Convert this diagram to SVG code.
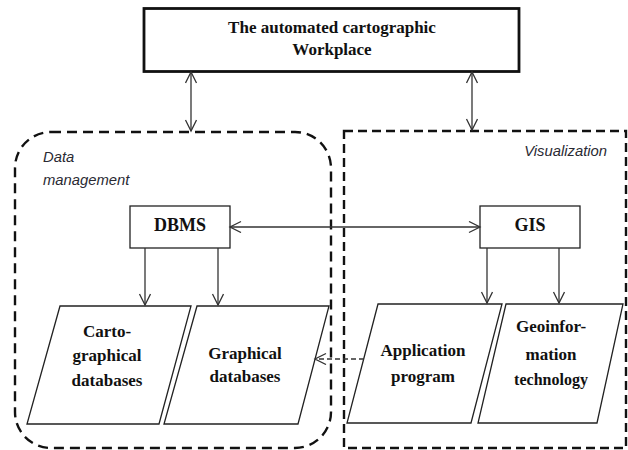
<svg xmlns="http://www.w3.org/2000/svg" width="628" height="450" viewBox="0 0 628 450">
<style>
.box{fill:#fff;stroke:#222;stroke-width:1.3}
.t{font-family:"Liberation Serif","Times New Roman",serif;font-weight:bold;fill:#111;text-anchor:middle}
.lbl{font-family:"Liberation Sans",Arial,sans-serif;font-style:italic;font-size:14.8px;fill:#2a2a33}
.ln{stroke:#333;stroke-width:1.3;fill:none}
.grp{fill:none;stroke:#111;stroke-width:2.4}
</style>
<defs>
<marker id="ah" markerUnits="userSpaceOnUse" markerWidth="14" markerHeight="14" refX="12" refY="6" orient="auto-start-reverse">
<path d="M1,0.5 L12,6 L1,11.5" fill="none" stroke="#333" stroke-width="1.3"/>
</marker>
</defs>
<g id="group-data-management">
<rect class="grp" x="15" y="132" width="316" height="316" rx="36" ry="36" stroke-dasharray="10,6"/>
<text class="lbl" x="43" y="162">Data</text>
<text class="lbl" x="43" y="185">management</text>
</g>
<g id="group-visualization">
<rect class="grp" x="344" y="131" width="282" height="317" stroke-dasharray="9,5"/>
<text class="lbl" x="607" y="156" text-anchor="end" font-size="14.5">Visualization</text>
</g>
<g id="workplace">
<rect x="144" y="8.5" width="375" height="63" fill="#fff" stroke="#111" stroke-width="2.8"/>
<text class="t" x="332" y="33" font-size="17">The automated cartographic</text>
<text class="t" x="332" y="55" font-size="17">Workplace</text>
</g>
<g id="dbms">
<rect class="box" x="130" y="206" width="100" height="42"/>
<text class="t" x="180" y="231" font-size="18">DBMS</text>
</g>
<g id="gis">
<rect class="box" x="480" y="206" width="100" height="42"/>
<text class="t" x="530" y="231" font-size="18">GIS</text>
</g>
<g id="cartographical-databases">
<polygon class="box" points="60,306 191,306 159,424 27,424"/>
<text class="t" x="107" y="337" font-size="17">Carto-</text>
<text class="t" x="107" y="361" font-size="17">graphical</text>
<text class="t" x="107" y="386" font-size="17">databases</text>
</g>
<g id="graphical-databases">
<polygon class="box" points="197,306 329,306 298,424 164,424"/>
<text class="t" x="245" y="359" font-size="17">Graphical</text>
<text class="t" x="245" y="382" font-size="17">databases</text>
</g>
<g id="application-program">
<polygon class="box" points="378,304 502,304 471,423 347,423"/>
<text class="t" x="423" y="356" font-size="17">Application</text>
<text class="t" x="423" y="382" font-size="17">program</text>
</g>
<g id="geoinformation-technology">
<polygon class="box" points="506,304 623,304 597,423 478,423"/>
<text class="t" x="551" y="332" font-size="17">Geoinfor-</text>
<text class="t" x="551" y="360" font-size="17">mation</text>
<text class="t" x="551" y="385" font-size="16">technology</text>
</g>
<g id="connectors">
<line class="ln" x1="191" y1="72" x2="191" y2="131" marker-start="url(#ah)" marker-end="url(#ah)"/>
<line class="ln" x1="472" y1="72" x2="472" y2="130" marker-start="url(#ah)" marker-end="url(#ah)"/>
<line class="ln" x1="230" y1="227" x2="480" y2="227" marker-start="url(#ah)" marker-end="url(#ah)"/>
<line class="ln" x1="145" y1="248" x2="145" y2="305" marker-end="url(#ah)"/>
<line class="ln" x1="218" y1="248" x2="218" y2="305" marker-end="url(#ah)"/>
<line class="ln" x1="487" y1="248" x2="487" y2="303" marker-end="url(#ah)"/>
<line class="ln" x1="559" y1="248" x2="559" y2="303" marker-end="url(#ah)"/>
<line class="ln" x1="364" y1="359" x2="315" y2="359" stroke-dasharray="5,3" marker-end="url(#ah)"/>
</g>
</svg>
